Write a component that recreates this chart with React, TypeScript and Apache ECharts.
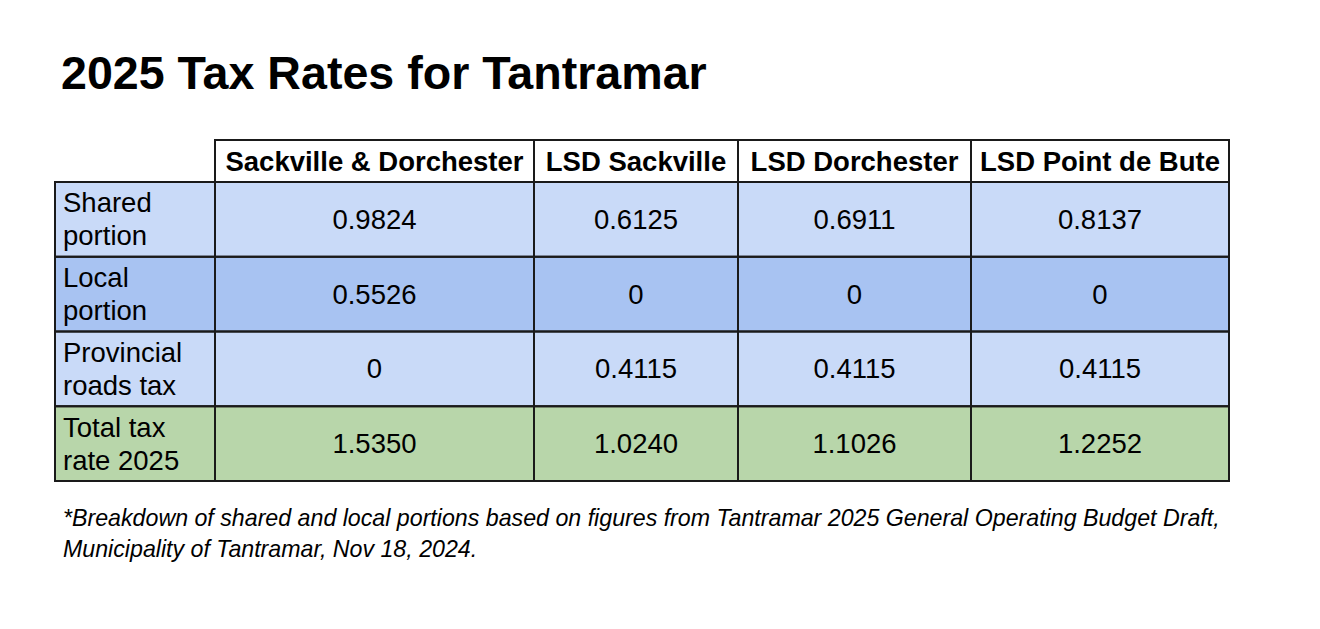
import React, { useEffect, useRef } from "react";
import * as echarts from "echarts";

const titleText = "2025 Tax Rates for Tantramar";
const columns = ["Sackville & Dorchester", "LSD Sackville", "LSD Dorchester", "LSD Point de Bute"];
const rowLabels = ["Shared\nportion", "Local\nportion", "Provincial\nroads tax", "Total tax\nrate 2025"];
const sharedPortion = [0.9824, 0.6125, 0.6911, 0.8137];
const localPortion = [0.5526, 0, 0, 0];
const provincialRoadsTax = [0, 0.4115, 0.4115, 0.4115];
const totalTaxRate = [1.535, 1.024, 1.1026, 1.2252];
const footnote =
  "*Breakdown of shared and local portions based on figures from Tantramar 2025 General Operating Budget Draft,\nMunicipality of Tantramar, Nov 18, 2024.";

const rows = [sharedPortion, localPortion, provincialRoadsTax, totalTaxRate];
const rowColors = ["#c9daf8", "#a8c3f2", "#c9daf8", "#b8d6aa"];

// layout (pixel units relative to table left)
const TABLE_LEFT = 55;
const COL_EDGES = [0, 160, 479, 683, 916, 1174];
const FONT = '"Liberation Sans", Arial, sans-serif';
const BORDER = "#1a1a1a";

const fmt = (v: number) => (v === 0 ? "0" : v.toFixed(4));

export default function App() {
  const ref = useRef<HTMLDivElement>(null);
  useEffect(() => {
    if (!ref.current) return;
    const chart = echarts.init(ref.current, undefined, { renderer: "svg" });

    const bodyData: number[][] = [];
    rows.forEach((_, r) => {
      for (let c = 0; c < 5; c++) bodyData.push([c, r]);
    });
    const headerData: number[][] = columns.map((_, i) => [i + 1, 0]);

    const cellRect = (api: any) => {
      const c = api.value(0);
      const r = api.value(1);
      const x0 = api.coord([COL_EDGES[c], r])[0];
      const x1 = api.coord([COL_EDGES[c + 1], r]);
      const h = api.size([0, 1])[1];
      return { x: x0, y: x1[1] - h / 2, width: x1[0] - x0, height: h, c, r, cy: x1[1] };
    };

    const bodyFill = (params: any, api: any) => {
      const b = cellRect(api);
      const isLabel = b.c === 0;
      const text = isLabel ? rowLabels[b.r] : fmt(rows[b.r][b.c - 1]);
      return {
        type: "group",
        children: [
          {
            type: "rect",
            shape: { x: b.x, y: b.y, width: b.width, height: b.height },
            style: { fill: rowColors[b.r] },
          },
          {
            type: "text",
            style: {
              text,
              x: isLabel ? b.x + 8 : b.x + b.width / 2,
              y: b.cy,
              align: isLabel ? "left" : "center",
              verticalAlign: "middle",
              fontSize: 27.5,
              lineHeight: 33,
              fontFamily: FONT,
              fill: "#000",
            },
          },
        ],
      };
    };

    const headerFill = (params: any, api: any) => {
      const b = cellRect(api);
      return {
        type: "group",
        children: [
          {
            type: "rect",
            shape: { x: b.x, y: b.y, width: b.width, height: b.height },
            style: { fill: "#ffffff" },
          },
          {
            type: "text",
            style: {
              text: columns[b.c - 1],
              x: b.x + b.width / 2,
              y: b.cy,
              align: "center",
              verticalAlign: "middle",
              fontSize: 27.5,
              fontWeight: "bold",
              fontFamily: FONT,
              fill: "#000",
            },
          },
        ],
      };
    };

    const borders = (params: any, api: any) => {
      const b = cellRect(api);
      return {
        type: "rect",
        shape: { x: b.x, y: b.y, width: b.width, height: b.height },
        style: { fill: "none", stroke: BORDER, lineWidth: 2 },
      };
    };

    const hiddenX = (gridIndex: number) => ({
      type: "value" as const,
      gridIndex,
      min: 0,
      max: COL_EDGES[COL_EDGES.length - 1],
      show: false,
    });

    chart.setOption({
      animation: false,
      backgroundColor: "#ffffff",
      grid: [
        { left: TABLE_LEFT, top: 182, width: 1174, height: 299 },
        { left: TABLE_LEFT, top: 140, width: 1174, height: 42 },
      ],
      xAxis: [hiddenX(0), hiddenX(1)],
      yAxis: [
        { type: "category", gridIndex: 0, data: rowLabels, inverse: true, show: false },
        { type: "category", gridIndex: 1, data: ["header"], show: false },
      ],
      graphic: [
        {
          type: "text",
          left: 61,
          top: 49,
          style: {
            text: titleText,
            fontSize: 46.6,
            fontWeight: "bold",
            fontFamily: FONT,
            fill: "#000",
          },
        },
        {
          type: "text",
          x: 63,
          y: 502,
          style: {
            text: footnote,
            fontSize: 23.2,
            lineHeight: 31,
            fontStyle: "italic",
            fontFamily: FONT,
            fill: "#000",
            verticalAlign: "top",
          },
        },
      ],
      series: [
        { type: "custom", xAxisIndex: 0, yAxisIndex: 0, data: bodyData, renderItem: bodyFill, z: 1 },
        { type: "custom", xAxisIndex: 1, yAxisIndex: 1, data: headerData, renderItem: headerFill, z: 1 },
        { type: "custom", xAxisIndex: 0, yAxisIndex: 0, data: bodyData, renderItem: borders, z: 3 },
        { type: "custom", xAxisIndex: 1, yAxisIndex: 1, data: headerData, renderItem: borders, z: 3 },
      ],
    });
    return () => chart.dispose();
  }, []);
  return (
    <div
      ref={ref}
      style={{ width: 1320, height: 629, position: "absolute", left: 0, top: 0 }}
    />
  );
}
